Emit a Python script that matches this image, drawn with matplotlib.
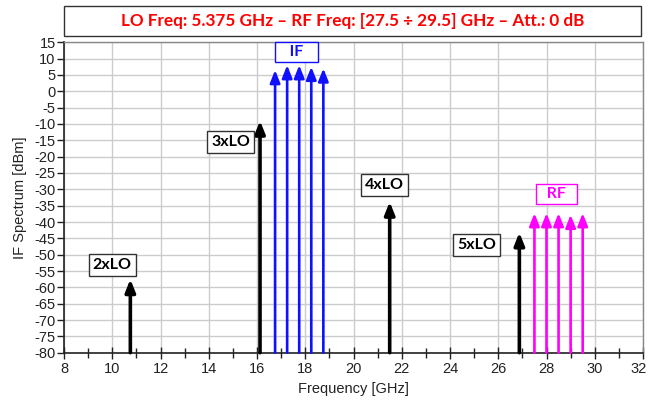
import matplotlib
matplotlib.use("Agg")
import matplotlib.pyplot as plt
from matplotlib.patches import Rectangle
import matplotlib.transforms as mtransforms

# Data
lo_freqs = [10.75, 16.125, 21.5, 26.875]
lo_levels = [-57.5, -9.0, -33.8, -43.2]
lo_labels = ["2xLO", "3xLO", "4xLO", "5xLO"]
lo_label_x = [10.0, 14.9, 21.3, 25.1]
lo_label_y = [-53.2, -15.5, -28.7, -47.0]

if_freqs = [16.75, 17.25, 17.75, 18.25, 18.75]
if_levels = [6.5, 8.0, 8.0, 7.5, 7.0]
rf_freqs = [27.5, 28.0, 28.5, 29.0, 29.5]
rf_levels = [-37.3, -37.3, -37.3, -37.8, -37.3]

title_text = "LO Freq: 5.375 GHz \u2013 RF Freq: [27.5 \u00f7 29.5] GHz \u2013 Att.: 0 dB"
x_ticks = list(range(8, 33, 2))
y_ticks = list(range(-80, 16, 5))

W, H = 648, 405
fig = plt.figure(figsize=(W / 100, H / 100), dpi=100)
ax = fig.add_axes([64 / W, (H - 352.7) / H, (643 - 64) / W, (352.7 - 42.3) / H])

ax.set_xlim(8, 32)
ax.set_ylim(-80, 15)
ax.set_xticks(x_ticks)
ax.set_xticks(range(9, 32, 2), minor=True)
ax.set_yticks(y_ticks)
ax.grid(True, which="major", color="#cccccc", linewidth=1.0)
ax.set_axisbelow(True)

tick_font = dict(family="Liberation Sans", size=10.5)
ax.set_xticklabels([str(t) for t in x_ticks], fontdict=tick_font, color="#222222")
ax.set_yticklabels([str(t) for t in y_ticks], fontdict=tick_font, color="#222222")
ax.tick_params(axis="x", which="major", direction="inout", length=8, width=1, color="#222222", pad=3)
ax.tick_params(axis="x", which="minor", direction="inout", length=7, width=1, color="#222222")
ax.tick_params(axis="y", which="major", direction="out", length=5, width=1, color="#222222", pad=1)

# keep last x label inside figure
last = ax.get_xticklabels()[-1]
last.set_transform(last.get_transform() + mtransforms.ScaledTranslation(-4 / 100, 0, fig.dpi_scale_trans))

for s in ["left", "bottom"]:
    ax.spines[s].set_color("#222222")
    ax.spines[s].set_linewidth(1.2)
for s in ["top", "right"]:
    ax.spines[s].set_color("#888888")
    ax.spines[s].set_linewidth(1.0)

ax.set_xlabel("Frequency [GHz]", family="Liberation Sans", size=10.5, color="#222222", labelpad=4)
ax.set_ylabel("IF Spectrum [dBm]", family="Liberation Sans", size=10.5, color="#222222", labelpad=5)


def draw_arrow(x, y, color, lw, hw, hl):
    ax.annotate("", xy=(x, y), xytext=(x, -80), zorder=4,
                arrowprops=dict(arrowstyle=f"-|>,head_width={hw},head_length={hl}",
                                color=color, lw=lw, shrinkA=0, shrinkB=0))


for f, v in zip(lo_freqs, lo_levels):
    draw_arrow(f, v, "black", 2.6, 0.3, 0.75)
for f, v in zip(if_freqs, if_levels):
    draw_arrow(f, v, "#1010ff", 1.9, 0.3, 0.75)
for f, v in zip(rf_freqs, rf_levels):
    draw_arrow(f, v, "#ff00ff", 1.9, 0.3, 0.75)

label_font = dict(family="Lato", weight="bold", size=11.5)
for lab, lx, ly in zip(lo_labels, lo_label_x, lo_label_y):
    ax.text(lx, ly, lab, ha="center", va="center", color="black", zorder=5, **label_font,
            bbox=dict(boxstyle="square,pad=0.25", fc="white", ec="#333333", lw=1))
ax.text(17.65, 12.0, "   IF   ", ha="center", va="center", color="#1010ff", zorder=5, **label_font,
        bbox=dict(boxstyle="square,pad=0.2", fc="white", ec="#1010ff", lw=1))
ax.text(28.4, -31.4, "  RF  ", ha="center", va="center", color="#ff00ff", zorder=5, **label_font,
        bbox=dict(boxstyle="square,pad=0.2", fc="white", ec="#ff00ff", lw=1))

# Title box
fig.patches.append(Rectangle((64 / W, (H - 36) / H), (641 - 64) / W, 30 / H,
                             transform=fig.transFigure, fc="white", ec="#333333", lw=1))
fig.text((64 + 641) / 2 / W, (H - 21) / H, title_text, ha="center", va="center",
         color="#ff0000", family="Lato", weight="bold", size=12.3)

fig.savefig("out.png", dpi=100)
